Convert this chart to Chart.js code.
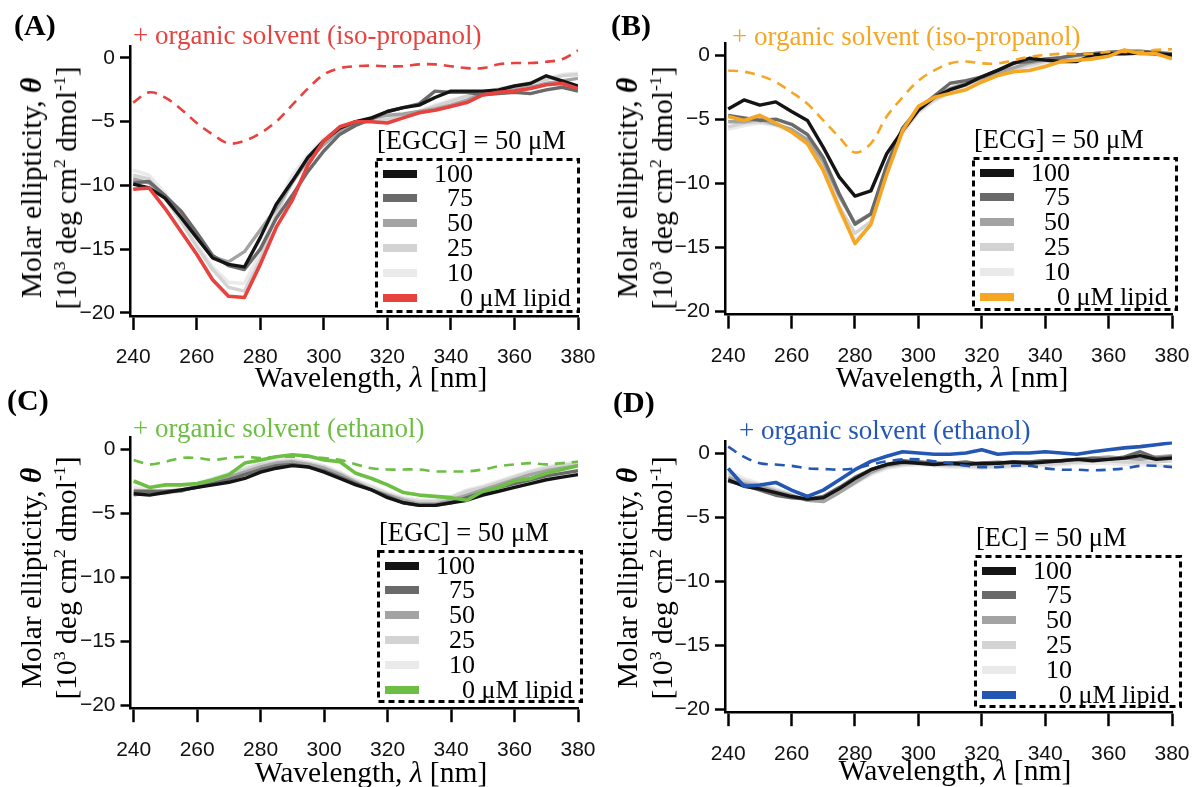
<!DOCTYPE html>
<html><head><meta charset="utf-8">
<script src="https://cdn.jsdelivr.net/npm/chart.js@4.4.1/dist/chart.umd.min.js"></script>
<style>
html,body{margin:0;padding:0;background:#fff;}
body{width:1194px;height:787px;position:relative;overflow:hidden;font-family:"Liberation Serif","Times New Roman",serif;color:#000;}
canvas{position:absolute;}
.t{position:absolute;white-space:nowrap;line-height:1;}
.letter{font-weight:bold;font-size:30px;}
.solv{font-size:27px;}
.ytitle{position:absolute;font-size:29.5px;line-height:35px;text-align:center;white-space:nowrap;transform:translate(-50%,-50%) rotate(-90deg);}
.xtitle{position:absolute;font-size:29.5px;line-height:1;white-space:nowrap;transform:translate(-50%,-50%);}
sup{font-size:0.6em;vertical-align:0.6em;line-height:0;}
.lg{position:absolute;}
.lg svg{position:absolute;left:0;top:0;overflow:visible;}
.sw{position:absolute;height:8px;width:34px;}
.num{position:absolute;font-size:26px;line-height:1;text-align:right;width:98px;left:0;}
.unit{position:absolute;font-size:26px;line-height:1;left:98px;white-space:nowrap;}
.lt{position:absolute;font-size:26.5px;line-height:1;white-space:nowrap;}
</style>
</head><body>
<script>
// ---------------- data ----------------
const wavelengths = [240,245,250,255,260,265,270,275,280,285,290,295,300,305,310,315,320,325,330,335,340,345,350,355,360,365,370,375,380];
const xTickValues = [240,260,280,300,320,340,360,380];
const yTickValues = [-20,-15,-10,-5,0];
const lipidLabels = ['100','75','50','25','10','0'];
const grayColors = ['#141414','#6a6a6a','#a3a3a3','#d3d3d3','#eaeaea'];

// (A) EGCG
const egcg_100 = [-9.9,-10.2,-11.0,-12.5,-14.1,-15.7,-16.2,-16.4,-14.1,-11.5,-9.7,-7.8,-6.5,-5.5,-5.0,-4.7,-4.2,-3.9,-3.7,-3.1,-2.6,-2.6,-2.6,-2.5,-2.2,-2.0,-1.4,-1.8,-2.2];
const egcg_75  = [-9.8,-9.7,-10.8,-12.0,-13.7,-15.5,-16.3,-16.6,-15.0,-12.6,-10.8,-8.9,-7.3,-6.0,-5.3,-4.8,-4.2,-3.9,-3.6,-2.6,-2.7,-2.7,-2.9,-2.8,-2.7,-2.8,-2.5,-2.3,-2.6];
const egcg_50  = [-9.5,-9.8,-10.8,-12.4,-14.0,-15.6,-16.0,-15.2,-13.5,-11.8,-9.8,-8.0,-6.8,-5.7,-5.1,-4.7,-4.5,-4.4,-4.2,-4.0,-3.7,-3.3,-2.8,-2.7,-2.5,-2.3,-2.0,-1.8,-1.6];
const egcg_25  = [-9.2,-9.5,-11.0,-12.8,-14.8,-16.6,-18.0,-18.3,-15.8,-12.3,-9.7,-8.0,-6.7,-5.7,-5.0,-4.9,-4.8,-4.6,-4.2,-3.8,-3.4,-3.0,-2.7,-2.5,-2.3,-2.0,-1.7,-1.4,-1.3];
const egcg_10  = [-8.8,-9.2,-10.6,-12.6,-14.6,-16.4,-17.6,-17.7,-15.2,-11.8,-9.2,-7.6,-6.3,-5.5,-5.0,-4.9,-4.8,-4.5,-4.2,-3.7,-3.3,-3.0,-2.7,-2.4,-2.2,-1.9,-1.6,-1.3,-1.2];
const egcg_0   = [-10.3,-10.2,-11.8,-13.6,-15.4,-17.4,-18.7,-18.8,-16.2,-13.3,-11.2,-8.4,-6.5,-5.4,-5.0,-5.0,-5.1,-4.7,-4.3,-4.1,-3.8,-3.5,-2.9,-2.7,-2.6,-2.4,-2.1,-2.0,-2.4];
const egcg_solvent = [-3.5,-2.7,-3.1,-4.0,-5.1,-6.0,-6.7,-6.5,-5.9,-5.0,-3.7,-2.4,-1.3,-0.8,-0.65,-0.6,-0.65,-0.65,-0.5,-0.5,-0.65,-0.8,-0.8,-0.5,-0.4,-0.4,-0.3,-0.1,0.6];

// (B) ECG
const ecg_100 = [-4.2,-3.5,-3.9,-3.65,-4.4,-5.1,-7.2,-9.5,-11.0,-10.6,-7.7,-5.9,-4.3,-3.3,-2.7,-2.3,-1.7,-1.2,-0.65,-0.25,-0.4,-0.5,-0.5,0.0,0.1,0.1,0.15,0.1,0.0];
const ecg_75  = [-4.7,-4.9,-5.1,-5.0,-5.4,-6.2,-8.0,-10.8,-13.2,-12.4,-8.6,-5.7,-4.2,-3.2,-2.2,-2.0,-1.7,-1.2,-0.6,-0.5,-0.3,-0.2,0.0,0.1,0.2,0.3,0.3,0.2,0.1];
const ecg_50  = [-5.2,-5.2,-5.0,-5.4,-5.8,-6.6,-8.3,-11.0,-13.1,-12.4,-8.9,-5.9,-4.2,-3.3,-2.6,-2.2,-1.8,-1.4,-1.0,-0.6,-0.4,-0.2,0.0,0.1,0.2,0.3,0.2,0.1,0.0];
const ecg_25  = [-5.6,-5.3,-5.2,-5.4,-5.9,-6.8,-8.8,-11.8,-13.9,-13.0,-9.2,-6.0,-4.4,-3.5,-2.8,-2.3,-1.9,-1.5,-1.1,-0.8,-0.5,-0.3,-0.1,0.0,0.1,0.2,0.2,0.1,0.0];
const ecg_10  = [-5.8,-5.5,-5.3,-5.5,-6.0,-7.0,-9.0,-12.2,-14.4,-13.3,-9.4,-6.1,-4.5,-3.6,-2.9,-2.4,-2.0,-1.6,-1.2,-0.9,-0.6,-0.4,-0.2,-0.1,0.0,0.1,0.1,0.0,-0.1];
const ecg_0   = [-4.8,-5.1,-4.7,-5.3,-6.0,-6.9,-9.0,-11.9,-14.7,-13.2,-9.3,-5.9,-4.0,-3.3,-3.0,-2.7,-2.1,-1.6,-1.3,-1.2,-0.9,-0.5,-0.4,-0.3,-0.1,0.4,0.1,0.1,-0.3];
const ecg_solvent = [-1.2,-1.3,-1.6,-2.1,-2.9,-3.8,-5.1,-6.4,-7.6,-6.9,-4.8,-3.3,-2.0,-1.2,-0.65,-0.5,-0.65,-0.65,-0.4,-0.15,0.0,0.1,0.1,0.1,0.25,0.25,0.25,0.4,0.45];

// (C) EGC
const egc_100 = [-3.5,-3.6,-3.4,-3.2,-3.0,-2.8,-2.6,-2.3,-1.8,-1.5,-1.3,-1.4,-1.8,-2.3,-2.8,-3.2,-3.8,-4.2,-4.4,-4.4,-4.2,-4.0,-3.6,-3.3,-3.0,-2.7,-2.4,-2.2,-2.0];
const egc_75  = [-3.3,-3.3,-3.3,-3.2,-3.0,-2.7,-2.4,-2.0,-1.6,-1.3,-1.2,-1.4,-1.7,-2.2,-2.7,-3.2,-3.7,-4.2,-4.4,-4.4,-4.2,-3.8,-3.4,-3.0,-2.7,-2.4,-2.1,-1.9,-1.7];
const egc_50  = [-3.6,-3.4,-3.3,-3.3,-2.9,-2.6,-2.2,-1.8,-1.4,-1.1,-1.0,-1.2,-1.5,-2.0,-2.6,-3.2,-3.6,-4.0,-4.3,-4.3,-4.0,-3.6,-3.2,-2.8,-2.4,-2.0,-1.7,-1.5,-1.3];
const egc_25  = [-3.2,-3.3,-3.4,-3.3,-2.8,-2.4,-2.0,-1.6,-1.2,-1.0,-0.9,-1.1,-1.4,-1.9,-2.5,-3.0,-3.5,-3.9,-4.1,-4.1,-3.8,-3.3,-3.0,-2.6,-2.2,-1.8,-1.5,-1.3,-1.1];
const egc_10  = [-3.0,-3.2,-3.5,-3.2,-2.7,-2.3,-1.9,-1.5,-1.1,-0.9,-0.8,-1.0,-1.3,-1.8,-2.4,-2.9,-3.4,-3.8,-4.0,-4.0,-3.7,-3.2,-2.9,-2.5,-2.1,-1.7,-1.4,-1.2,-1.0];
const egc_0   = [-2.5,-3.0,-2.8,-2.8,-2.7,-2.4,-2.0,-1.1,-0.85,-0.6,-0.45,-0.55,-0.85,-1.0,-1.9,-2.3,-2.8,-3.4,-3.6,-3.7,-3.8,-4.0,-3.3,-3.0,-2.5,-2.3,-1.9,-1.6,-1.3];
const egc_solvent = [-0.85,-1.2,-1.0,-0.7,-0.7,-0.85,-0.7,-0.6,-0.7,-0.6,-0.6,-0.6,-0.7,-0.85,-1.2,-1.5,-1.6,-1.6,-1.6,-1.75,-1.75,-1.75,-1.6,-1.35,-1.2,-1.1,-1.2,-1.1,-1.0];

// (D) EC
const ec_100 = [-2.1,-2.6,-2.8,-3.1,-3.4,-3.6,-3.5,-2.8,-2.0,-1.3,-0.9,-0.7,-0.8,-0.9,-0.8,-0.9,-0.8,-0.8,-0.7,-0.8,-0.7,-0.6,-0.5,-0.6,-0.5,-0.4,-0.2,-0.5,-0.4];
const ec_75  = [-2.2,-2.5,-2.9,-3.3,-3.5,-3.6,-3.4,-2.7,-1.9,-1.3,-0.9,-0.6,-0.7,-0.8,-0.8,-0.7,-0.9,-0.8,-0.7,-0.7,-0.6,-0.6,-0.5,-0.4,-0.5,-0.3,0.1,-0.4,-0.3];
const ec_50  = [-1.9,-2.4,-2.6,-3.0,-3.3,-3.7,-3.8,-3.1,-2.3,-1.5,-1.0,-0.8,-0.7,-0.8,-0.9,-0.8,-0.8,-0.7,-0.8,-0.7,-0.6,-0.6,-0.5,-0.4,-0.3,-0.4,-0.5,-0.3,-0.2];
const ec_25  = [-1.6,-2.2,-2.5,-2.9,-3.3,-3.7,-3.6,-3.0,-2.3,-1.6,-1.1,-0.9,-0.8,-0.9,-1.0,-1.0,-1.1,-1.0,-1.0,-0.9,-0.9,-0.8,-0.7,-0.6,-0.6,-0.7,-0.7,-0.7,-0.6];
const ec_10  = [-1.4,-2.0,-2.4,-2.8,-3.2,-3.5,-3.6,-3.1,-2.4,-1.7,-1.2,-1.0,-0.9,-1.0,-1.1,-1.1,-1.2,-1.1,-1.1,-1.0,-1.0,-0.9,-0.8,-0.8,-0.8,-0.9,-0.9,-1.0,-1.0];
const ec_0   = [-1.2,-2.6,-2.5,-2.3,-2.9,-3.4,-2.9,-2.1,-1.3,-0.65,-0.25,0.1,0.0,-0.1,-0.1,0.0,0.25,-0.1,0.0,0.0,0.1,0.0,-0.1,0.1,0.25,0.4,0.5,0.65,0.8];
const ec_solvent = [0.5,-0.3,-0.8,-0.9,-1.0,-1.2,-1.25,-1.3,-1.2,-0.9,-0.65,-0.5,-0.5,-0.65,-0.8,-1.0,-1.1,-1.1,-1.0,-1.0,-1.2,-1.3,-1.3,-1.35,-1.3,-1.2,-1.0,-1.0,-1.1];

// ---------------- panels (layout in page px) ----------------
const panels = [
  {letter:'(A)', compound:'EGCG', solventName:'iso-propanol', color:'#e8423f',
   series:[egcg_100,egcg_75,egcg_50,egcg_25,egcg_10], zero:egcg_0, solvent:egcg_solvent,
   cv:{left:0,top:0,w:597,h:390,yW:130,padR:19,padT:46.5,xH:74},
   letterPos:[14,10], solvPos:[133,22], yTitle:[48.5,188], xTitle:[371,378],
   box:[375,158,205,155], lgTitle:[377,127]},
  {letter:'(B)', compound:'ECG', solventName:'iso-propanol', color:'#f5a623',
   series:[ecg_100,ecg_75,ecg_50,ecg_25,ecg_10], zero:ecg_0, solvent:ecg_solvent,
   cv:{left:597,top:0,w:597,h:390,yW:128,padR:22,padT:43.5,xH:75.3},
   letterPos:[611,10], solvPos:[732,23], yTitle:[644.5,188], xTitle:[952,378],
   box:[972,157,206,154], lgTitle:[974,126]},
  {letter:'(C)', compound:'EGC', solventName:'ethanol', color:'#6cbf43',
   series:[egc_100,egc_75,egc_50,egc_25,egc_10], zero:egc_0, solvent:egc_solvent,
   cv:{left:0,top:390,w:597,h:397,yW:130.5,padR:19,padT:47.5,xH:78.8},
   letterPos:[7,385], solvPos:[133,415], yTitle:[48.5,578], xTitle:[371,773],
   box:[377,550,206,153], lgTitle:[379,519]},
  {letter:'(D)', compound:'EC', solventName:'ethanol', color:'#2457b3',
   series:[ec_100,ec_75,ec_50,ec_25,ec_10], zero:ec_0, solvent:ec_solvent,
   cv:{left:597,top:390,w:597,h:397,yW:128,padR:22,padT:51.5,xH:74.8},
   letterPos:[613,387], solvPos:[739,417], yTitle:[645,578], xTitle:[955,771],
   box:[974,555,208,153], lgTitle:[976,524]}
];

function el(tag, cls, html, style){
  const e=document.createElement(tag); if(cls)e.className=cls; if(html!=null)e.innerHTML=html;
  if(style)Object.assign(e.style,style); document.body.appendChild(e); return e;
}
const px=v=>v+'px';
const minusFmt = v => (v<0 ? '\u2212'+Math.abs(v) : String(v));

panels.forEach(p=>{
  const c=p.cv;
  const canvas=document.createElement('canvas');
  canvas.width=c.w; canvas.height=c.h;
  canvas.style.left=px(c.left); canvas.style.top=px(c.top);
  canvas.style.width=px(c.w); canvas.style.height=px(c.h);
  document.body.appendChild(canvas);

  const toPts = arr => wavelengths.map((x,i)=>({x:x,y:arr[i]}));
  const datasets=[];
  datasets.push({label:'0 μM lipid', data:toPts(p.zero), borderColor:p.color, borderWidth:3.6, tension:0});
  datasets.push({label:'+ organic solvent', data:toPts(p.solvent), borderColor:p.color, borderWidth:2.6, borderDash:[10,7], tension:0.35});
  p.series.forEach((s,i)=>{
    datasets.push({label:lipidLabels[i], data:toPts(s), borderColor:grayColors[i], borderWidth:3.4, tension:0});
  });

  const tickFont={family:'"Liberation Sans Narrow", "Liberation Sans", Arial, sans-serif', size:21};
  new Chart(canvas.getContext('2d'),{
    type:'line',
    data:{datasets},
    options:{
      responsive:false, animation:false, devicePixelRatio:1,
      layout:{padding:{left:0,right:c.padR,top:c.padT,bottom:0}},
      plugins:{legend:{display:false}, tooltip:{enabled:false}, title:{display:false}},
      elements:{point:{radius:0}, line:{borderJoinStyle:'round', borderCapStyle:'butt', fill:false}},
      scales:{
        x:{type:'linear', min:239, max:380,
           afterBuildTicks:s=>{s.ticks=xTickValues.map(v=>({value:v}));},
           afterFit:s=>{s.height=c.xH; s.paddingLeft=0; s.paddingRight=0;},
           grid:{drawOnChartArea:false, drawTicks:true, tickLength:14, tickWidth:2.5, color:'#000'},
           border:{display:true, color:'#000', width:2.5},
           ticks:{color:'#111', font:tickFont, padding:15, maxRotation:0, autoSkip:false, callback:v=>String(v)}},
        y:{type:'linear', min:-20.25, max:0.9,
           afterBuildTicks:s=>{s.ticks=yTickValues.map(v=>({value:v}));},
           afterFit:s=>{s.width=c.yW; s.paddingTop=0; s.paddingBottom=0;},
           grid:{drawOnChartArea:false, drawTicks:true, tickLength:10, tickWidth:2.5, color:'#000'},
           border:{display:true, color:'#000', width:2.5},
           ticks:{color:'#111', font:tickFont, padding:5, autoSkip:false, callback:minusFmt}}
      }
    }
  });

  // text overlays
  el('div','t letter',p.letter,{left:px(p.letterPos[0]),top:px(p.letterPos[1])});
  el('div','t solv','+ organic solvent ('+p.solventName+')',{left:px(p.solvPos[0]),top:px(p.solvPos[1]),color:p.color});
  el('div','ytitle','Molar ellipticity, <b><i>θ</i></b><br>[10<sup>3</sup> deg cm<sup>2</sup> dmol<sup>-1</sup>]',{left:px(p.yTitle[0]),top:px(p.yTitle[1])});
  el('div','xtitle','Wavelength, <i>λ</i> [nm]',{left:px(p.xTitle[0]),top:px(p.xTitle[1])});
  el('div','lt','['+p.compound+'] = 50 μM',{left:px(p.lgTitle[0]),top:px(p.lgTitle[1])});

  // legend box
  const [bx,by,bw,bh]=p.box;
  const lg=el('div','lg',null,{left:px(bx),top:px(by),width:px(bw),height:px(bh)});
  lg.innerHTML='<svg width="'+bw+'" height="'+bh+'"><rect x="1.5" y="1.5" width="'+(bw-3)+'" height="'+(bh-3)+'" fill="none" stroke="#000" stroke-width="3" stroke-dasharray="6,4"/></svg>';
  const colors=grayColors.concat([p.color]);
  lipidLabels.forEach((lab,i)=>{
    const cy=15.5+i*24.8;
    const sw=document.createElement('div'); sw.className='sw';
    Object.assign(sw.style,{left:'8px',top:px(cy-4),background:colors[i]}); lg.appendChild(sw);
    const n=document.createElement('div'); n.className='num'; n.textContent=lab;
    n.style.top=px(cy-13); lg.appendChild(n);
    if(i===lipidLabels.length-1){
      const u=document.createElement('div'); u.className='unit'; u.textContent='\u00a0μM lipid';
      u.style.top=px(cy-13); lg.appendChild(u);
    }
  });
});
</script>
</body></html>
